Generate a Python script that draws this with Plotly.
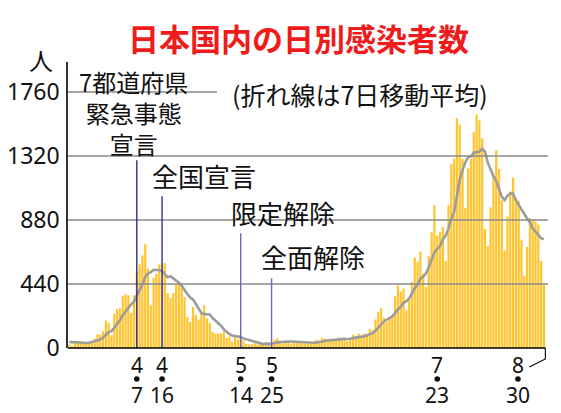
import pandas as pd
import plotly.graph_objects as go

# ---------------- data ----------------
start_date = "2020-03-14"
daily_cases = [
    25, 14, 40, 39, 39, 43, 39, 42, 39, 64,
    94, 92, 115, 188, 172, 87, 236, 266, 273, 357,
    369, 362, 241, 362, 523, 575, 637, 713, 545, 293,
    481, 511, 575, 580, 584, 378, 344, 378, 438, 438,
    438, 350, 213, 179, 282, 228, 195, 240, 293, 202,
    172, 110, 99, 99, 99, 115, 69, 80, 41, 76,
    58, 85, 53, 27, 25, 25, 32, 25, 25, 28,
    41, 25, 30,
    57, 66, 41, 30, 41, 48, 30, 48, 41, 34, 34, 30,
    34, 41, 41, 57, 41, 71, 64, 53, 48, 64, 64, 71,
    64, 71, 48, 64, 92, 80, 99, 87, 99, 94, 130, 125,
    196, 249, 274, 208, 178, 208, 207, 355, 430, 389,
    408, 260, 330, 453, 622, 594, 664, 511, 419, 631,
    795, 981, 773, 797, 832, 598, 982, 1264, 1301, 1580,
    1536, 1300, 964, 1236, 1300, 1485, 1605, 1565, 1442, 820,
    700, 967, 1176, 1360, 1232, 1016, 670, 904, 1076, 1171,
    1034, 1013, 745, 496, 696, 892, 884, 869, 849, 599,
    436,
]
prior_cases = [47, 26, 59, 52, 55, 41]   # six days before the first bar (for the 7-day mean)

y_ticks = [0, 440, 880, 1320, 1760]
tick_dates = ["2020-04-07", "2020-04-16", "2020-05-14", "2020-05-25", "2020-07-23"]
end_date_label = "2020-08-30"

event_dates = ["2020-04-07", "2020-04-16", "2020-05-14", "2020-05-25"]
event_names = ["7都道府県<br>緊急事態<br>宣言", "全国宣言", "限定解除", "全面解除"]

title_text = "日本国内の日別感染者数"
note_text = "(折れ線は7日移動平均)"
unit_text = "人"

# ---------------- derived ----------------
dates = pd.date_range(start_date, periods=len(daily_cases), freq="D")
moving_avg = (pd.Series(prior_cases + daily_cases).rolling(7).mean()
              .iloc[len(prior_cases):].round(1).tolist())

# ---------------- layout geometry / style ----------------
WIN_W, WIN_H = 561, 413
OFF = 8                      # default page body margin
L, R, T, B = 68, 548, 62, 348   # plot area in window pixels
PX_PER_DAY = 2.808
x0 = dates[0] - pd.Timedelta(hours=12)
x1 = x0 + pd.Timedelta(days=(R - L) / PX_PER_DAY)
y_top = (B - T) / 64 * 440

def px(x):
    return (x - L) / (R - L)

def py(y):
    return (B - y) / (B - T)

def date_frac(d):
    return (pd.Timestamp(d) - x0) / (x1 - x0)

BAR_COLOR = "#FFC531"
LINE_COLOR = "#9c9c9c"
GRID_COLOR = "#8a8a8a"
NUM_FONT = "Noto Sans, Liberation Sans, sans-serif"
JP_FONT = "Noto Sans CJK JP, Noto Sans, sans-serif"

event_tops = [1290, 1043, 789, 479]
event_colors = ["#2d2d90", "#33339a", "#6a6ac8", "#6a6ac8"]
# label anchors in pixels (center x, center y), font size
event_label_pos = [(133, 112, 24), (204, 175, 26), (283, 213, 26), (313, 256, 26)]
END_LABEL_SHIFT = -26   # px, end label sits left of its date, joined by a leader
DOT_Y, DOT_R = 379, 2.8

fig = go.Figure()
fig.add_trace(go.Bar(x=dates, y=daily_cases, marker=dict(color=BAR_COLOR, line=dict(width=0)),
                     hoverinfo="skip"))
fig.add_trace(go.Scatter(x=dates, y=moving_avg, mode="lines",
                         line=dict(color=LINE_COLOR, width=2.6), hoverinfo="skip"))

shapes = []
# gridlines (drawn over the bars)
for v in y_ticks[1:]:
    xe = px(217) if v == y_ticks[-1] else 1
    shapes.append(dict(type="line", xref="paper", yref="y", x0=0, x1=xe, y0=v, y1=v,
                       line=dict(color=GRID_COLOR, width=1.3), layer="above"))
# event lines
for d, top, c in zip(event_dates, event_tops, event_colors):
    shapes.append(dict(type="line", xref="x", yref="y", x0=d, x1=d, y0=0, y1=top,
                       line=dict(color=c, width=1.4), layer="above"))
# x axis line ending at last bar, plus leader to the end label
x_end = date_frac(dates[-1] + pd.Timedelta(hours=12))
shapes.append(dict(type="line", xref="paper", yref="paper", x0=0, x1=x_end, y0=0, y1=0,
                   line=dict(color="black", width=1.6), layer="above"))
shapes.append(dict(type="path", xref="paper", yref="paper",
                   path=f"M{x_end},0 L{x_end},{py(359)} L{x_end - 16/(R-L)},{py(367)}",
                   line=dict(color="black", width=1.1), layer="above"))

label_dates = [pd.Timestamp(d) for d in tick_dates]
end_ts = pd.Timestamp(end_date_label)
# separator dots between month and day
dot_fracs = [date_frac(ts) for ts in label_dates] + [date_frac(end_ts) + END_LABEL_SHIFT / (R - L)]
for xf in dot_fracs:
    dx = DOT_R / (R - L)
    shapes.append(dict(type="circle", xref="paper", yref="paper",
                       x0=xf - dx, x1=xf + dx, y0=py(DOT_Y + DOT_R), y1=py(DOT_Y - DOT_R),
                       fillcolor="#111", line=dict(width=0)))

ann = []
ann.append(dict(text=title_text, x=px(298), y=py(38), xref="paper", yref="paper",
                showarrow=False, xanchor="center", yanchor="middle",
                font=dict(family=JP_FONT, size=31, color="#f01b1b", weight=700)))
ann.append(dict(text=unit_text, x=px(41), y=py(60), xref="paper", yref="paper",
                showarrow=False, xanchor="center", yanchor="middle",
                font=dict(family=JP_FONT, size=24, color="#111")))
ann.append(dict(text=note_text, x=px(360), y=py(94), xref="paper", yref="paper",
                showarrow=False, xanchor="center", yanchor="middle",
                font=dict(family=JP_FONT, size=25, color="#111")))
for t, (cx, cy, fs) in zip(event_names, event_label_pos):
    ann.append(dict(text=t, x=px(cx), y=py(cy), xref="paper", yref="paper",
                    showarrow=False, xanchor="center", yanchor="middle", align="center",
                    font=dict(family=JP_FONT, size=fs, color="#111")))

def date_label(ts, xshift=0):
    out = []
    for t, ys in [(str(ts.month), -17), (str(ts.day), -47)]:
        out.append(dict(text=t, x=ts, y=0, xref="x", yref="paper", yshift=ys, xshift=xshift,
                        showarrow=False, xanchor="center", yanchor="middle",
                        font=dict(family=NUM_FONT, size=21, color="#111")))
    return out

for ts in label_dates:
    ann += date_label(ts)
ann += date_label(end_ts, xshift=END_LABEL_SHIFT)

fig.update_layout(
    width=WIN_W - OFF, height=WIN_H - OFF,
    margin=dict(l=L - OFF, r=WIN_W - R, t=T - OFF, b=WIN_H - B, pad=0, autoexpand=False),
    paper_bgcolor="white", plot_bgcolor="white",
    showlegend=False, bargap=0.2,
    xaxis=dict(range=[x0, x1], showgrid=False, showticklabels=False, ticks="",
               showline=False, zeroline=False, fixedrange=True, automargin=False),
    yaxis=dict(range=[0, y_top], tickvals=y_ticks, ticktext=[str(v) for v in y_ticks],
               showgrid=False, zeroline=False, showline=True, linecolor="#333", linewidth=1.5,
               ticks="", ticklabelstandoff=2, automargin=False,
               tickfont=dict(family=NUM_FONT, size=23, color="#111"), fixedrange=True),
    shapes=shapes, annotations=ann,
)
fig.write_html("out.html", config={"displayModeBar": False})
